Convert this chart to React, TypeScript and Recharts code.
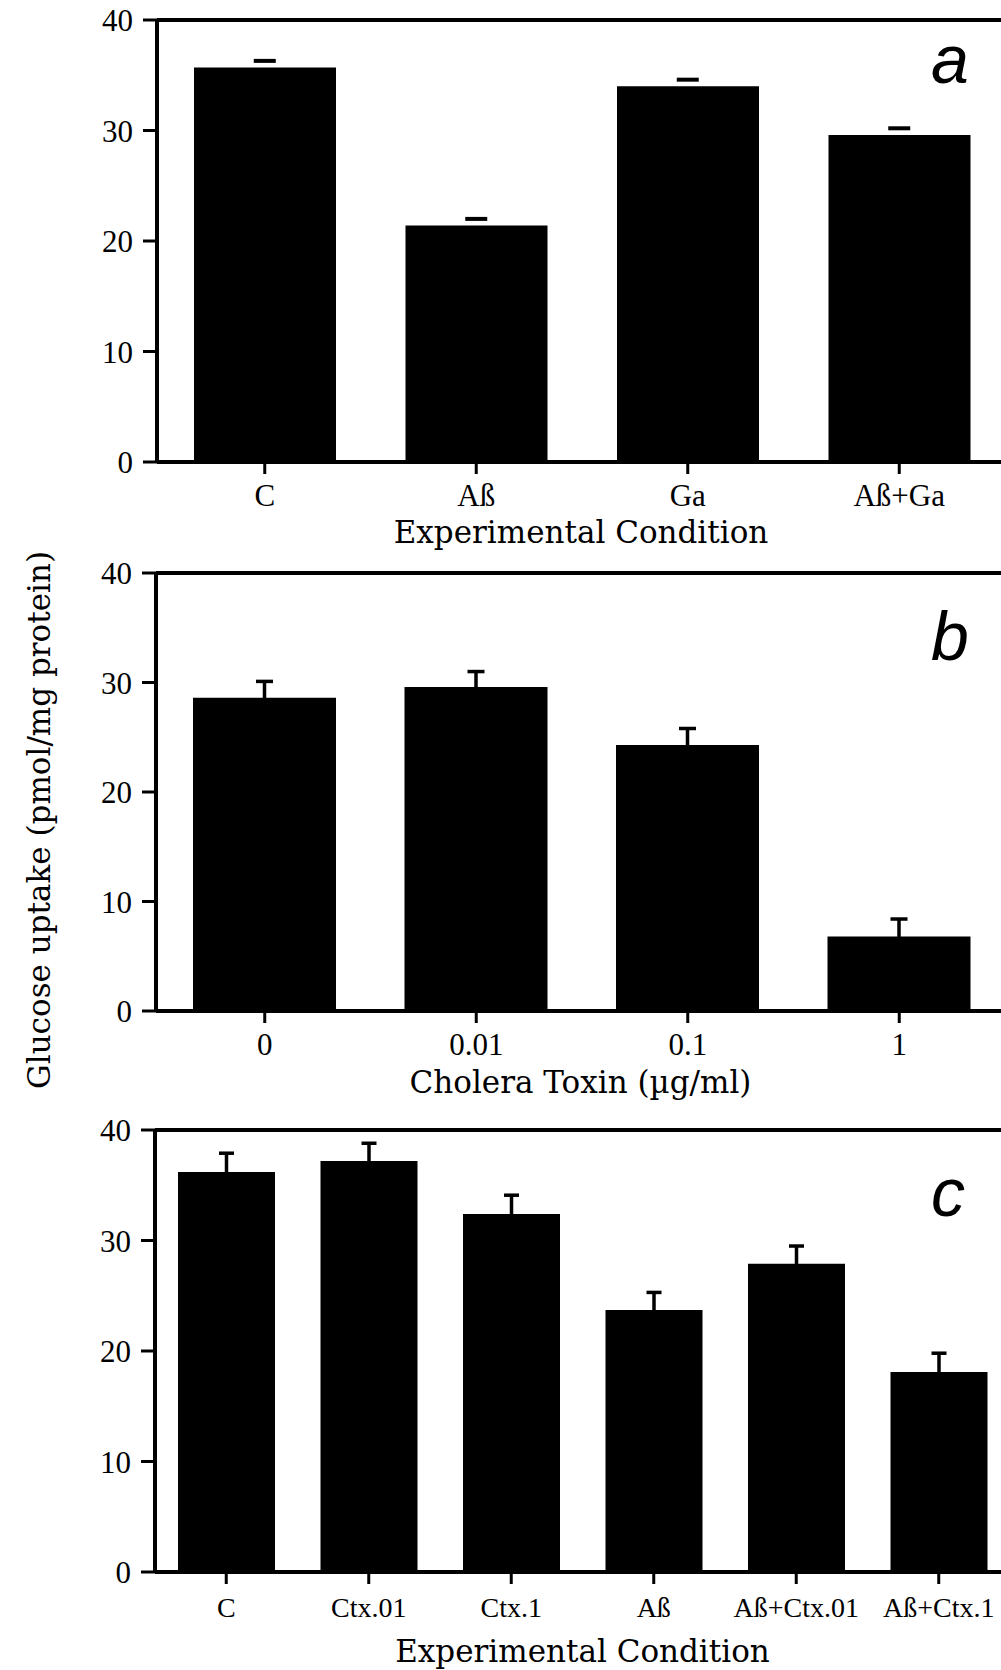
import React from 'react';
import { ComposedChart, Bar, XAxis, YAxis, ErrorBar, Scatter, ReferenceLine } from 'recharts';

// ---------- data ----------
const yTicks = [0, 10, 20, 30, 40];

const aCategories = ['C', 'Aß', 'Ga', 'Aß+Ga'];
const aValues = [35.7, 21.4, 34.0, 29.6];
const aErrors = [0.6, 0.6, 0.6, 0.6];

const bCategories = ['0', '0.01', '0.1', '1'];
const bValues = [28.6, 29.6, 24.3, 6.8];
const bErrors = [1.5, 1.4, 1.5, 1.6];

const cCategories = ['C', 'Ctx.01', 'Ctx.1', 'Aß', 'Aß+Ctx.01', 'Aß+Ctx.1'];
const cValues = [36.2, 37.2, 32.4, 23.7, 27.9, 18.1];
const cErrors = [1.7, 1.6, 1.7, 1.6, 1.6, 1.7];

const aTitle = 'Experimental Condition';
const bTitle = 'Cholera Toxin (µg/ml)';
const cTitle = 'Experimental Condition';
const yTitle = 'Glucose uptake (pmol/mg protein)';

const aData = aCategories.map((name, i) => ({ name, value: aValues[i], cap: aValues[i] + aErrors[i] }));
const bData = bCategories.map((name, i) => ({ name, value: bValues[i], err: bErrors[i] }));
const cData = cCategories.map((name, i) => ({ name, value: cValues[i], err: cErrors[i] }));

// ---------- styles ----------
const TICK_FONT = '"Liberation Serif", "Times New Roman", serif';
const TITLE_FONT = '"DejaVu Serif", serif';
const LETTER_FONT = '"Liberation Sans", Arial, sans-serif';
const INK = '#000';

const axisLine = { stroke: INK, strokeWidth: 4 };
const tickLine = { stroke: INK, strokeWidth: 3 };

const CapShape = (props: any) => {
  const { cx, cy } = props;
  if (cx == null || cy == null) return null;
  return <rect x={cx - 11} y={cy - 2} width={22} height={4} fill={INK} />;
};

const YTitle = (props: any) => {
  const vb = props.viewBox || { x: 0, y: 0, width: 0, height: 0 };
  const cx = vb.x + 50;
  const cy = vb.y + vb.height / 2 + 28;
  return (
    <text
      x={cx}
      y={cy}
      transform={`rotate(-90, ${cx}, ${cy})`}
      textAnchor="middle"
      fill={INK}
      fontSize={31}
      fontFamily={TITLE_FONT}
    >
      {yTitle}
    </text>
  );
};

const yAxisCommon = {
  type: 'number' as const,
  domain: [0, 40],
  ticks: yTicks,
  interval: 0 as const,
  tickSize: 14,
  tickMargin: 10,
  axisLine,
  tickLine,
  tick: { fill: INK, fontSize: 31, fontFamily: TICK_FONT },
};

export default function App() {
  return (
    <div
      style={{
        position: 'absolute',
        left: 0,
        top: 0,
        width: 1001,
        height: 1670,
        overflow: 'hidden',
        background: '#fff',
      }}
    >
      {/* Panel a */}
      <div style={{ position: 'absolute', left: 0, top: 0 }}>
        <ComposedChart width={1010} height={552} data={aData} margin={{ top: 20, right: 5, bottom: 0, left: 0 }}>
          <XAxis
            dataKey="name"
            type="category"
            interval={0}
            height={90}
            padding={{ left: 2, right: 0 }}
            tickSize={12}
            tickMargin={10}
            axisLine={axisLine}
            tickLine={tickLine}
            tick={{ fill: INK, fontSize: 31, fontFamily: TICK_FONT }}
            label={{ value: aTitle, position: 'insideBottom', offset: 9, fill: INK, fontSize: 31, fontFamily: TITLE_FONT }}
          />
          <YAxis {...yAxisCommon} width={157} />
          <ReferenceLine y={40} stroke={INK} strokeWidth={4} />
          <Bar dataKey="value" fill={INK} barSize={142} isAnimationActive={false} />
          <Scatter dataKey="cap" shape={CapShape} isAnimationActive={false} />
        </ComposedChart>
      </div>

      {/* Panel b */}
      <div style={{ position: 'absolute', left: 0, top: 540 }}>
        <ComposedChart width={1010} height={563} data={bData} margin={{ top: 33, right: 5, bottom: 0, left: 0 }}>
          <XAxis
            dataKey="name"
            type="category"
            interval={0}
            height={92}
            padding={{ left: 3, right: 0 }}
            tickSize={12}
            tickMargin={10}
            axisLine={axisLine}
            tickLine={tickLine}
            tick={{ fill: INK, fontSize: 31, fontFamily: TICK_FONT }}
            label={{ value: bTitle, position: 'insideBottom', offset: 10, fill: INK, fontSize: 31, fontFamily: TITLE_FONT }}
          />
          <YAxis {...yAxisCommon} width={156} label={<YTitle />} />
          <ReferenceLine y={40} stroke={INK} strokeWidth={4} />
          <Bar dataKey="value" fill={INK} barSize={143} isAnimationActive={false}>
            <ErrorBar dataKey="err" direction="y" width={8.5} stroke={INK} strokeWidth={3.5} />
          </Bar>
        </ComposedChart>
      </div>

      {/* Panel c */}
      <div style={{ position: 'absolute', left: 0, top: 1103 }}>
        <ComposedChart width={1015} height={567} data={cData} margin={{ top: 27, right: 5, bottom: 0, left: 0 }}>
          <XAxis
            dataKey="name"
            type="category"
            interval={0}
            height={98}
            tickSize={12}
            tickMargin={13}
            axisLine={axisLine}
            tickLine={tickLine}
            tick={{ fill: INK, fontSize: 28, fontFamily: TICK_FONT }}
            label={{ value: cTitle, position: 'insideBottom', offset: 8, fill: INK, fontSize: 31, fontFamily: TITLE_FONT }}
          />
          <YAxis {...yAxisCommon} width={155} />
          <ReferenceLine y={40} stroke={INK} strokeWidth={4} />
          <Bar dataKey="value" fill={INK} barSize={97} isAnimationActive={false}>
            <ErrorBar dataKey="err" direction="y" width={7.5} stroke={INK} strokeWidth={3.5} />
          </Bar>
        </ComposedChart>
      </div>

      {/* Panel letters */}
      <svg
        width={1001}
        height={1670}
        style={{ position: 'absolute', left: 0, top: 0, pointerEvents: 'none' }}
      >
        <text x={931} y={83} fontSize={68} fontStyle="italic" fontFamily={LETTER_FONT} fill={INK}>a</text>
        <text x={931} y={660} fontSize={68} fontStyle="italic" fontFamily={LETTER_FONT} fill={INK}>b</text>
        <text x={931} y={1216} fontSize={68} fontStyle="italic" fontFamily={LETTER_FONT} fill={INK}>c</text>
      </svg>
    </div>
  );
}
